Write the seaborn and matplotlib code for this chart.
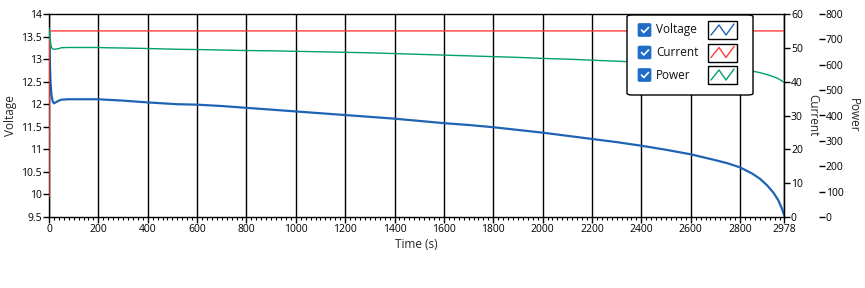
import numpy as np
import pandas as pd
import matplotlib
matplotlib.use("Agg")
import matplotlib.pyplot as plt
import seaborn as sns
from matplotlib.patches import FancyBboxPatch, Rectangle
from matplotlib.lines import Line2D
from matplotlib.ticker import FixedLocator, MultipleLocator

# ---------------- data ----------------
time_s = [0, 3, 6, 10, 15, 20, 30, 40, 50, 75, 100, 150, 200, 230, 300, 400, 520,
          600, 700, 800, 900, 1000, 1100, 1200, 1300, 1400, 1500, 1600, 1700, 1800,
          1900, 2000, 2100, 2200, 2300, 2400, 2500, 2600, 2700, 2750, 2800, 2850,
          2880, 2910, 2935, 2955, 2970, 2978]
voltage = [13.68, 13.0, 12.5, 12.2, 12.06, 12.02, 12.05, 12.08, 12.10, 12.11, 12.11,
           12.11, 12.11, 12.10, 12.08, 12.04, 12.00, 11.99, 11.96, 11.92, 11.88, 11.84,
           11.80, 11.76, 11.72, 11.68, 11.63, 11.58, 11.54, 11.49, 11.43, 11.37, 11.30,
           11.23, 11.16, 11.08, 10.99, 10.89, 10.76, 10.69, 10.60, 10.46, 10.35, 10.20,
           10.04, 9.87, 9.68, 9.55]
power = [745, 715, 690, 668, 662, 661, 662, 664, 667, 668, 668, 668, 668, 667, 666,
         664, 661, 660, 658, 656, 655, 653, 651, 649, 647, 644, 641, 638, 635, 632,
         629, 625, 622, 618, 614, 610, 605, 599, 592, 588, 582, 575, 569, 561, 553,
         545, 536, 530]
current_time = [0, 1, 2978]
current = [6, 55, 55]

x_major = [0, 200, 400, 600, 800, 1000, 1200, 1400, 1600, 1800, 2000, 2200, 2400,
           2600, 2800, 2978]
v_ticks = [9.5, 10, 10.5, 11, 11.5, 12, 12.5, 13, 13.5, 14]
c_ticks = [0, 10, 20, 30, 40, 50, 60]
p_ticks = [0, 100, 200, 300, 400, 500, 600, 700, 800]
series_names = ["Voltage", "Current", "Power"]

BLUE = "#1f64b4"
RED = "#ff3b3b"
GREEN = "#00a06c"
CHECK_BLUE = "#1e6cc8"

df_v = pd.DataFrame({"t": time_s, "v": voltage})
df_p = pd.DataFrame({"t": time_s, "p": power})
df_c = pd.DataFrame({"t": current_time, "c": current})

# ---------------- figure ----------------
sns.set_style("white")
plt.rcParams["font.family"] = ["Open Sans", "DejaVu Sans"]
plt.rcParams["axes.edgecolor"] = "black"

W, H = 865, 288
fig = plt.figure(figsize=(W / 100, H / 100), dpi=100)
L, R, T, B = 49, 784, 14, 217
ax = fig.add_axes([L / W, 1 - B / H, (R - L) / W, (B - T) / H])
ax2 = ax.twinx()
ax3 = ax.twinx()

sns.lineplot(data=df_v, x="t", y="v", ax=ax, color=BLUE, linewidth=1.6,
             estimator=None, sort=False, legend=False)
sns.lineplot(data=df_c, x="t", y="c", ax=ax2, color=RED, linewidth=1.0,
             estimator=None, sort=False, legend=False)
sns.lineplot(data=df_p, x="t", y="p", ax=ax3, color=GREEN, linewidth=1.0,
             estimator=None, sort=False, legend=False)

ax.set_xlim(0, 2978)
ax.set_ylim(9.5, 14)
ax2.set_ylim(0, 60)
ax3.set_ylim(0, 800)

tick_fs = 7.5
lab_fs = 8.5
ax.xaxis.set_major_locator(FixedLocator(x_major))
ax.xaxis.set_minor_locator(MultipleLocator(20))
ax.set_xticklabels([str(v) for v in x_major])
ax.yaxis.set_major_locator(FixedLocator(v_ticks))
ax.set_yticklabels([f"{v:g}" for v in v_ticks])
ax2.yaxis.set_major_locator(FixedLocator(c_ticks))
ax2.set_yticklabels([str(v) for v in c_ticks])
ax3.yaxis.set_major_locator(FixedLocator(p_ticks))
ax3.set_yticklabels([str(v) for v in p_ticks])

ax.tick_params(axis="x", which="major", direction="out", length=4, width=1,
               labelsize=tick_fs, pad=1, bottom=True, colors="black")
ax.tick_params(axis="x", which="minor", direction="out", length=2.5, width=0.8,
               bottom=True, colors="black")
ax.tick_params(axis="y", direction="out", length=4, width=1, labelsize=tick_fs,
               pad=1, left=True, colors="black")
ax2.tick_params(axis="y", direction="out", length=4, width=1, labelsize=tick_fs,
                pad=1, right=True, colors="black")
ax3.tick_params(axis="y", direction="out", length=4, width=1, labelsize=tick_fs,
                pad=1, right=True, colors="black")

ax3.spines["right"].set_position(("outward", 25))
ax3.spines["right"].set_visible(False)
for a in (ax2, ax3):
    a.patch.set_visible(False)
    for s in ("top", "left", "bottom"):
        a.spines[s].set_visible(False)
for s in ax.spines.values():
    s.set_color("black")
    s.set_linewidth(1.0)
ax2.spines["right"].set_color("black")

ax.xaxis.grid(True, which="major", color="black", linewidth=1.0)
ax.yaxis.grid(False)
ax.set_axisbelow(True)

ax.set_xlabel("Time (s)", fontsize=lab_fs, labelpad=2)
ax.set_ylabel("Voltage", fontsize=lab_fs, labelpad=3)
ax2.set_ylabel("Current", fontsize=lab_fs, rotation=270, labelpad=12)
ax3.set_ylabel("Power", fontsize=lab_fs, rotation=270, labelpad=12)


# ---------------- custom legend (pixel positions) ----------------
def fx(x):
    return x / W


def fy(y):
    return 1 - y / H


box = FancyBboxPatch((fx(627), fy(95)), fx(753) - fx(627), fy(15) - fy(95),
                     boxstyle="round,pad=0,rounding_size=0.006",
                     transform=fig.transFigure, facecolor="white",
                     edgecolor="black", linewidth=1.0, zorder=20)
fig.patches.append(box)

row_y = [30, 52.5, 75]
colors = [BLUE, RED, GREEN]
for name, yc, col in zip(series_names, row_y, colors):
    cb = FancyBboxPatch((fx(638), fy(yc + 6.5)), fx(13), 13 / H,
                        boxstyle="round,pad=0,rounding_size=0.003",
                        transform=fig.transFigure, facecolor=CHECK_BLUE,
                        edgecolor=CHECK_BLUE, linewidth=0.5, zorder=21)
    fig.patches.append(cb)
    fig.lines.append(Line2D([fx(641.5), fx(643.8), fx(648.5)],
                            [fy(yc), fy(yc + 2.5), fy(yc - 2.5)],
                            transform=fig.transFigure, color="white",
                            linewidth=1.2, zorder=22))
    fig.text(fx(656), fy(yc), name, fontsize=lab_fs, va="center", ha="left",
             color="#111111", zorder=22)
    sb = Rectangle((fx(708), fy(yc + 9)), fx(29), 18 / H,
                   transform=fig.transFigure, facecolor="white",
                   edgecolor="black", linewidth=1.0, zorder=21)
    fig.patches.append(sb)
    fig.lines.append(Line2D([fx(v) for v in [711, 719, 726, 734]],
                            [fy(v) for v in [yc + 5, yc - 5, yc + 5, yc - 6]],
                            transform=fig.transFigure, color=col,
                            linewidth=1.0, zorder=22))

fig.savefig("out.png", dpi=100)
